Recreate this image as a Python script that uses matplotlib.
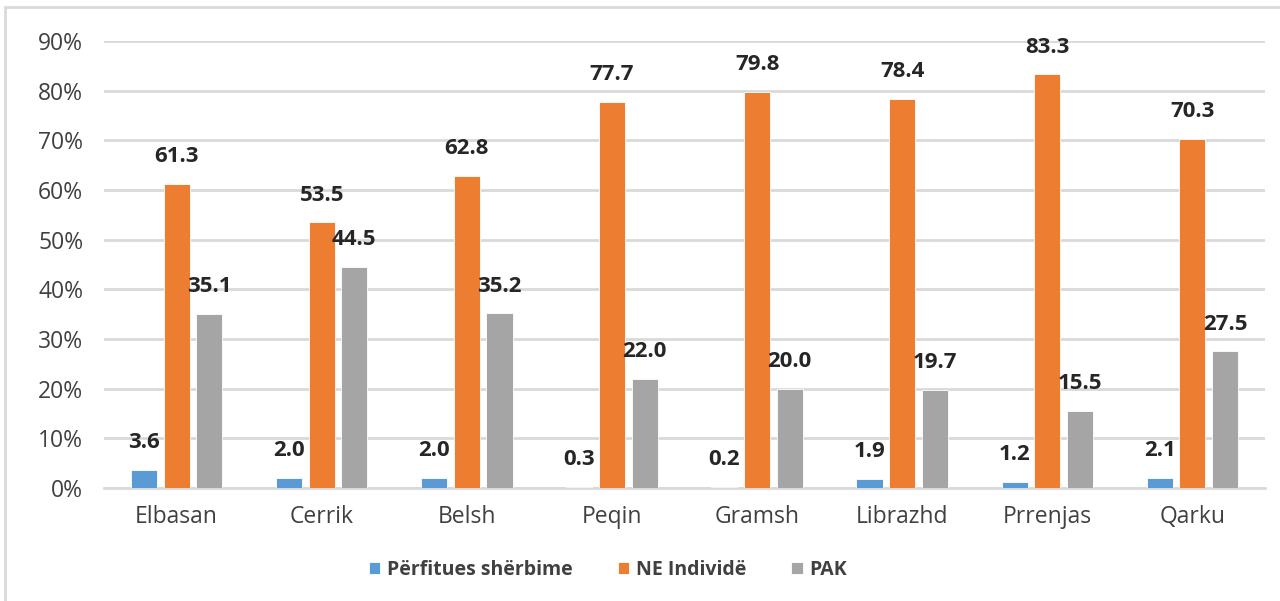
import matplotlib
matplotlib.use("Agg")
import matplotlib.pyplot as plt
import numpy as np
from matplotlib.patches import Rectangle

categories = ["Elbasan", "Cerrik", "Belsh", "Peqin", "Gramsh", "Librazhd", "Prrenjas", "Qarku"]
perfitues = [3.6, 2.0, 2.0, 0.3, 0.2, 1.9, 1.2, 2.1]
ne_individe = [61.3, 53.5, 62.8, 77.7, 79.8, 78.4, 83.3, 70.3]
pak = [35.1, 44.5, 35.2, 22.0, 20.0, 19.7, 15.5, 27.5]
series_names = ["Përfitues shërbime", "NE Individë", "PAK"]
colors = ["#5B9BD5", "#ED7D31", "#A5A5A5"]
yticks = [0, 10, 20, 30, 40, 50, 60, 70, 80, 90]

plt.rcParams['font.family'] = ['Open Sans', 'DejaVu Sans']

fig = plt.figure(figsize=(12.8, 6.01), dpi=100)
ax = fig.add_axes([104/1280, 1-488/601, (1265-104)/1280, (488-41)/601])

x = np.arange(len(categories))
w = 0.18
step = 0.225
series = [perfitues, ne_individe, pak]
for i, (vals, name, c) in enumerate(zip(series, series_names, colors)):
    pos = x + (i - 1) * step
    ax.bar(pos, vals, width=w, color=c, label=name, zorder=3,
           edgecolor='white', linewidth=0.6)
    for xp, v in zip(pos, vals):
        ax.annotate(f"{v:.1f}", (xp, v), xytext=(0, 12), textcoords='offset points',
                    ha='center', va='bottom', fontsize=16, fontweight='bold',
                    color='#262626', annotation_clip=False, zorder=5)

ax.set_xlim(-0.5, len(categories) - 0.5)
ax.set_ylim(0, 90)
ax.set_yticks(yticks)
ax.set_yticklabels([f"{t}%" for t in yticks])
ax.set_xticks(x)
ax.set_xticklabels(categories)
ax.yaxis.grid(True, color='#D9D9D9', linewidth=2, zorder=0)
ax.set_axisbelow(True)
for s in ['top', 'right', 'left']:
    ax.spines[s].set_visible(False)
ax.spines['bottom'].set_color('#D9D9D9')
ax.spines['bottom'].set_linewidth(2)
ax.tick_params(axis='both', length=0, labelsize=16.5, colors='#404040')
ax.tick_params(axis='y', pad=15)
ax.tick_params(axis='x', pad=12)

leg = fig.legend(loc='center', bbox_to_anchor=(0.475, 1-570/601), ncol=3, frameon=False,
                 prop={'size': 14, 'weight': 'bold'}, handlelength=0.6, handleheight=0.6,
                 handletextpad=0.35, columnspacing=2.3)
for t in leg.get_texts():
    t.set_color('#404040')

fig.patches.append(Rectangle((5/1280, -0.05), 1.2, 1 - 7/601 + 0.05, transform=fig.transFigure,
                             fill=False, edgecolor='#D9D9D9', linewidth=2, zorder=0))

fig.savefig("out.png", dpi=100)
